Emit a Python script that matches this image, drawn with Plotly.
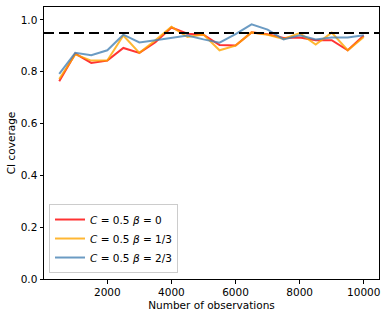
import plotly.graph_objects as go

n_obs = [500, 1000, 1500, 2000, 2500, 3000, 3500, 4000, 4500, 5000,
         5500, 6000, 6500, 7000, 7500, 8000, 8500, 9000, 9500, 10000]
cov_beta0 = [0.763, 0.870, 0.834, 0.843, 0.892, 0.873, 0.914, 0.971, 0.947, 0.943,
             0.903, 0.901, 0.952, 0.945, 0.930, 0.932, 0.922, 0.922, 0.883, 0.940]
cov_beta13 = [0.772, 0.867, 0.843, 0.843, 0.940, 0.873, 0.922, 0.974, 0.934, 0.944,
              0.883, 0.901, 0.952, 0.943, 0.927, 0.949, 0.905, 0.951, 0.883, 0.934]
cov_beta23 = [0.792, 0.873, 0.864, 0.883, 0.943, 0.913, 0.922, 0.930, 0.940, 0.925,
              0.912, 0.945, 0.983, 0.963, 0.925, 0.941, 0.925, 0.932, 0.932, 0.941]
target = 0.95
x_ticks = [2000, 4000, 6000, 8000, 10000]
y_ticks = [0.0, 0.2, 0.4, 0.6, 0.8, 1.0]

series = [
    ("<i>C</i> = 0.5 <i>β</i> = 0", cov_beta0, "rgba(255,0,0,0.8)"),
    ("<i>C</i> = 0.5 <i>β</i> = 1/3", cov_beta13, "rgba(255,165,0,0.8)"),
    ("<i>C</i> = 0.5 <i>β</i> = 2/3", cov_beta23, "rgba(70,130,180,0.8)"),
]

fig = go.Figure()
for name, ys, col in series:
    fig.add_trace(go.Scatter(x=n_obs, y=ys, mode="lines", name=name,
                             line=dict(color=col, width=2)))

fig.add_shape(type="line", xref="paper", x0=0, x1=1, yref="y", y0=target, y1=target,
              line=dict(color="black", width=2, dash="10px,5px"))

axis_common = dict(showline=True, linecolor="black", linewidth=1, mirror=True,
                   ticks="outside", ticklen=3.5, tickcolor="black", showgrid=False,
                   zeroline=False, automargin=False, tickfont=dict(size=10.5, color="black"))

fig.update_xaxes(range=[25, 10475], tickvals=x_ticks, ticktext=[str(v) for v in x_ticks],
                 title=dict(text="Number of observations", font=dict(size=10.5, color="black"), standoff=4),
                 **axis_common)
fig.update_yaxes(range=[0, 1.05], tickvals=y_ticks, ticktext=[f"{v:.1f}" for v in y_ticks],
                 title=dict(text="CI coverage", font=dict(size=10.5, color="black"), standoff=3),
                 **axis_common)

fig.update_layout(
    width=386, height=317,
    margin=dict(l=44, r=7, t=7, b=38),
    paper_bgcolor="white", plot_bgcolor="white",
    font=dict(family="DejaVu Sans", size=10.5, color="black"),
    legend=dict(x=0.015, y=0.022, xanchor="left", yanchor="bottom",
                bgcolor="rgba(255,255,255,0.8)", bordercolor="#cccccc", borderwidth=1,
                font=dict(size=10.5), tracegroupgap=0, itemwidth=30),
)

fig.write_html("out.html", config={"displayModeBar": False},
               post_script="document.body.style.margin='0px';")
